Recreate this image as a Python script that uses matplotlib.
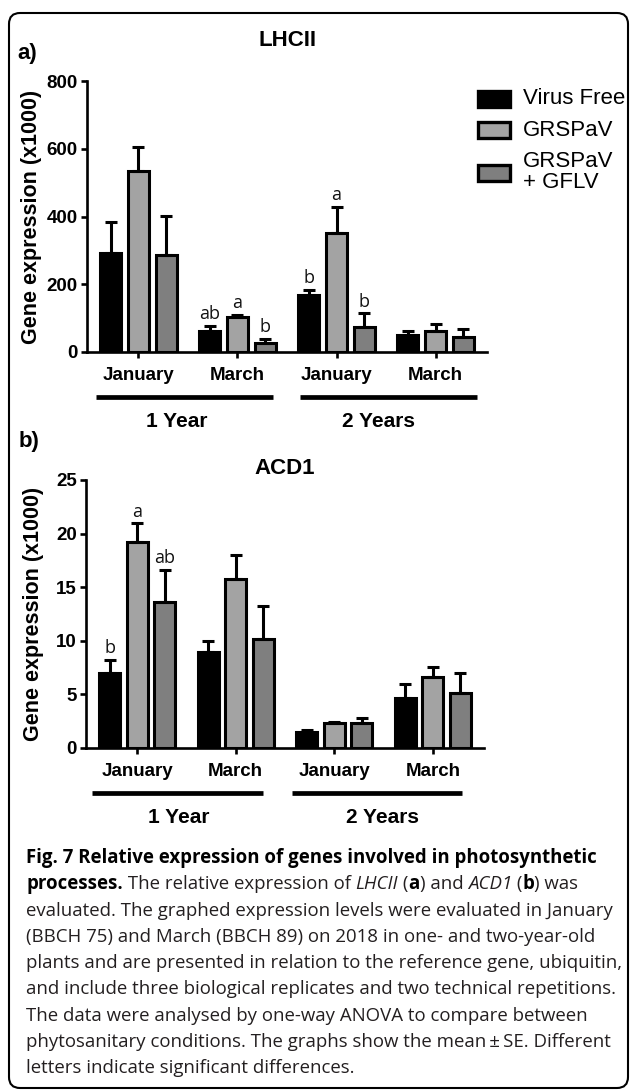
import numpy as np
import matplotlib
matplotlib.use('Agg')
import matplotlib.pyplot as plt
from matplotlib.patches import FancyBboxPatch, Rectangle

# groups on the x axis and the three phytosanitary conditions
months = ['January', 'March', 'January', 'March']
conditions = ['Virus Free', 'GRSPaV', 'GRSPaV\n+ GFLV']
colors = ['#000000', '#a3a3a3', '#7f7f7f']
years = ['1 Year', '2 Years']

# LHCII expression (x1000), mean and SE per condition
lhcii_vf = [291, 63, 167, 49]
lhcii_vf_se = [94, 14, 16, 12]
lhcii_gr = [535, 102, 352, 63]
lhcii_gr_se = [71, 8, 77, 20]
lhcii_gf = [287, 26, 73, 43]
lhcii_gf_se = [114, 12, 41, 25]
lhcii_letters = [['', 'ab', 'b', ''], ['', 'a', 'a', ''], ['', 'b', 'b', '']]

# ACD1 expression (x1000)
acd1_vf = [7.0, 9.0, 1.52, 4.63]
acd1_vf_se = [1.2, 1.0, 0.16, 1.34]
acd1_gr = [19.2, 15.8, 2.3, 6.65]
acd1_gr_se = [1.76, 2.17, 0.15, 0.88]
acd1_gf = [13.6, 10.2, 2.3, 5.1]
acd1_gf_se = [3.0, 3.0, 0.47, 1.87]
acd1_letters = [['b', '', '', ''], ['a', '', '', ''], ['ab', '', '', '']]

W, H = 630, 1090
fig = plt.figure(figsize=(W / 100, H / 100), dpi=100)
plt.rcParams['font.family'] = ['Liberation Sans', 'DejaVu Sans']


def px_axes(left, right, top, bottom):
    return fig.add_axes([left / W, 1 - bottom / H, (right - left) / W, (bottom - top) / H])


def draw_panel(ax, means, ses, letters, ymax, ystep, line_spans, label_x):
    x = np.arange(len(months))
    offsets = [-0.278, 0, 0.278]
    for i in range(3):
        ax.bar(x + offsets[i], means[i], 0.212, color=colors[i], edgecolor='black',
               linewidth=2.2, zorder=2, label=conditions[i])
        ax.errorbar(x + offsets[i], means[i], yerr=[np.zeros(len(x)), ses[i]], fmt='none',
                    ecolor='black', elinewidth=2.2, capsize=4, capthick=2.2, zorder=3)
        for j in range(len(x)):
            if letters[i][j]:
                ax.annotate(letters[i][j], (x[j] + offsets[i], means[i][j] + ses[i][j]),
                            xytext=(0, 2), textcoords='offset points', ha='center', va='bottom',
                            fontsize=13, family='Open Sans', color='#111111')
    ax.set_xlim(-0.52, 3.52)
    ax.set_ylim(0, ymax)
    ax.set_yticks(np.arange(0, ymax + 0.1, ystep))
    ax.set_xticks(x)
    ax.set_xticklabels(months)
    for s in ['top', 'right']:
        ax.spines[s].set_visible(False)
    for s in ['left', 'bottom']:
        ax.spines[s].set_linewidth(1.9)
    ax.tick_params(axis='both', width=1.9, length=4.5, labelsize=13.5, pad=2)
    ax.tick_params(axis='x', pad=6)
    for t in ax.get_xticklabels() + ax.get_yticklabels():
        t.set_fontweight('bold')
    ax.set_ylabel('Gene expression (x1000)', fontsize=15.5, fontweight='bold')
    trans = ax.get_xaxis_transform()
    for (x0, x1), lx, name in zip(line_spans, label_x, years):
        ax.plot([x0, x1], [-0.167, -0.167], transform=trans, clip_on=False,
                color='black', lw=3.4, solid_capstyle='butt')
        ax.text(lx, -0.258, name, transform=trans, ha='center', va='center',
                fontsize=15, fontweight='bold')


ax1 = px_axes(87, 487, 81, 352)
draw_panel(ax1, [lhcii_vf, lhcii_gr, lhcii_gf], [lhcii_vf_se, lhcii_gr_se, lhcii_gf_se],
           lhcii_letters, 800, 200, [(-0.43, 1.36), (1.63, 3.42)], [0.39, 2.42])
ax1.yaxis.set_label_coords(-0.1125, 0.5)

ax2 = px_axes(86, 484, 480, 748)
draw_panel(ax2, [acd1_vf, acd1_gr, acd1_gf], [acd1_vf_se, acd1_gr_se, acd1_gf_se],
           acd1_letters, 25, 5, [(-0.46, 1.28), (1.57, 3.30)], [0.42, 2.49])
ax2.yaxis.set_label_coords(-0.1055, 0.5)

# legend, placed by hand like the Prism original
for cond, col, yc in zip(conditions, colors, [99, 130.5, 172.5]):
    fig.add_artist(Rectangle((478 / W, 1 - (yc + 8) / H), 32 / W, 16 / H, transform=fig.transFigure,
                             facecolor=col, edgecolor='black', linewidth=2.4))
    fig.text(523 / W, 1 - (yc - 0.5) / H, cond, ha='left', va='center', fontsize=16,
             linespacing=1.0)

fig.text(288 / W, 1 - 41 / H, 'LHCII', ha='center', va='center', fontsize=16, fontweight='bold')
fig.text(285 / W, 1 - 468 / H, 'ACD1', ha='center', va='center', fontsize=16, fontweight='bold')
fig.text(17 / W, 1 - 53 / H, 'a)', ha='left', va='center', fontsize=16, fontweight='bold')
fig.text(19 / W, 1 - 442 / H, 'b)', ha='left', va='center', fontsize=16, fontweight='bold')

# rounded frame around the figure
r = 11 / W
frame = FancyBboxPatch((9 / W, 2 / H), 619 / W, 1075 / H,
                       boxstyle='round,pad=0,rounding_size=%f' % r, mutation_aspect=W / H,
                       transform=fig.transFigure, fill=False, edgecolor='black', linewidth=1.5)
fig.add_artist(frame)

# caption, with mixed bold / italic pieces laid out one after another
caption = [
    [('Fig. 7 Relative expression of genes involved in photosynthetic', 'bold', 'normal')],
    [('processes.', 'bold', 'normal'), (' The relative expression of ', 'normal', 'normal'),
     ('LHCII', 'normal', 'italic'), (' (', 'normal', 'normal'), ('a', 'bold', 'normal'),
     (') and ', 'normal', 'normal'), ('ACD1', 'normal', 'italic'), (' (', 'normal', 'normal'),
     ('b', 'bold', 'normal'), (') was', 'normal', 'normal')],
    [('evaluated. The graphed expression levels were evaluated in January', 'normal', 'normal')],
    [('(BBCH 75) and March (BBCH 89) on 2018 in one- and two-year-old', 'normal', 'normal')],
    [('plants and are presented in relation to the reference gene, ubiquitin,', 'normal', 'normal')],
    [('and include three biological replicates and two technical repetitions.', 'normal', 'normal')],
    [('The data were analysed by one-way ANOVA to compare between', 'normal', 'normal')],
    [('phytosanitary conditions. The graphs show the mean\u2009\u00b1\u2009SE. Different', 'normal', 'normal')],
    [('letters indicate significant differences.', 'normal', 'normal')],
]
cap_font = ['Open Sans', 'DejaVu Sans']
cap_size = 13.45
renderer = fig.canvas.get_renderer()


def text_width(s, weight, style):
    t1 = fig.text(0, 0, 'x' + s + 'x', family=cap_font, fontsize=cap_size, fontweight=weight, fontstyle=style)
    t2 = fig.text(0, 0, 'xx', family=cap_font, fontsize=cap_size, fontweight=weight, fontstyle=style)
    w = t1.get_window_extent(renderer).width - t2.get_window_extent(renderer).width
    t1.remove()
    t2.remove()
    return w


y0 = 863
for k, line in enumerate(caption):
    xpos = 26
    for s, weight, style in line:
        color = 'black' if weight == 'bold' else '#231f20'
        fig.text(xpos / W, 1 - (y0 + 26.3 * k) / H, s, family=cap_font, fontsize=cap_size,
                 fontweight=weight, fontstyle=style, va='baseline', ha='left', color=color)
        xpos += text_width(s, weight, style)

fig.savefig('out.png', dpi=100)
